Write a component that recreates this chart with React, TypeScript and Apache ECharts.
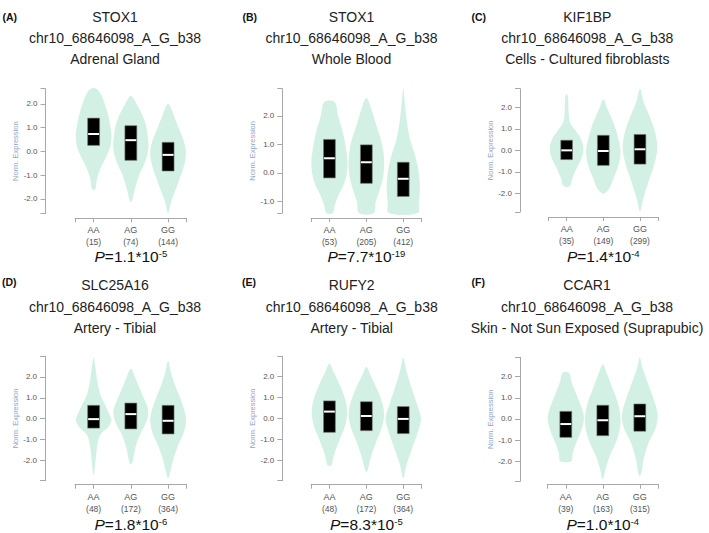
import React, { useEffect, useRef } from 'react';
import * as echarts from 'echarts';

// ---------------- data ----------------
const genotypes = ['AA', 'AG', 'GG'];
const panelTags = ['(A)', '(B)', '(C)', '(D)', '(E)', '(F)'];
const genes = ['STOX1', 'STOX1', 'KIF1BP', 'SLC25A16', 'RUFY2', 'CCAR1'];
const variantId = 'chr10_68646098_A_G_b38';
const tissues = [
  'Adrenal Gland',
  'Whole Blood',
  'Cells - Cultured fibroblasts',
  'Artery - Tibial',
  'Artery - Tibial',
  'Skin - Not Sun Exposed (Suprapubic)',
];
const sampleCounts = [
  [15, 74, 144],
  [53, 205, 412],
  [35, 149, 299],
  [48, 172, 364],
  [48, 172, 364],
  [39, 163, 315],
];
const pMantissa = ['1.1', '7.7', '1.4', '1.8', '8.3', '1.0'];
const pExponent = ['-5', '-19', '-4', '-6', '-5', '-4'];
const yMin = [-2.63, -1.41, -2.87, -2.97, -2.98, -2.95];
const yMax = [2.64, 2.95, 2.87, 2.99, 2.96, 2.92];
const yTickValues = [-2, -1, 0, 1, 2];

// box: first quartile, median, third quartile (per genotype)
const boxQ1 = [
  [0.25, -0.38, -0.83],
  [-0.18, -0.37, -0.83],
  [-0.43, -0.7, -0.64],
  [-0.45, -0.49, -0.73],
  [-0.67, -0.59, -0.73],
  [-0.87, -0.79, -0.58],
];
const boxMedian = [
  [0.73, 0.47, -0.15],
  [0.51, 0.37, -0.21],
  [0.0, -0.03, 0.05],
  [-0.02, 0.22, -0.1],
  [0.32, 0.11, -0.03],
  [-0.24, -0.06, 0.13],
];
const boxQ3 = [
  [1.4, 1.08, 0.38],
  [1.17, 0.98, 0.37],
  [0.47, 0.7, 0.74],
  [0.64, 0.75, 0.64],
  [0.83, 0.79, 0.56],
  [0.36, 0.65, 0.71],
];

// violin outlines: [expression value, half width (fraction of one genotype slot)]
const violinA = [
  [[2.64, 0.08], [2.4, 0.2], [2.08, 0.28], [1.52, 0.39], [0.96, 0.46], [0.61, 0.48], [0.11, 0.43], [-0.31, 0.31], [-0.73, 0.18], [-1.15, 0.09], [-1.58, 0.05], [-1.63, 0]],
  [[2.34, 0], [2.2, 0.08], [1.8, 0.22], [1.24, 0.38], [0.68, 0.45], [0.11, 0.47], [-0.45, 0.38], [-1.01, 0.22], [-1.58, 0.11], [-2.07, 0.03], [-2.14, 0]],
  [[1.99, 0], [1.85, 0.07], [1.52, 0.15], [0.96, 0.29], [0.39, 0.43], [-0.1, 0.48], [-0.59, 0.43], [-1.15, 0.31], [-1.72, 0.18], [-2.14, 0.08], [-2.56, 0.02], [-2.6, 0]],
];
const violinB = [
  [[2.48, 0.14], [2.01, 0.23], [1.43, 0.36], [0.84, 0.45], [0.26, 0.49], [-0.33, 0.41], [-0.8, 0.24], [-1.15, 0.14], [-1.41, 0.09]],
  [[2.62, 0], [2.25, 0.13], [1.66, 0.27], [1.08, 0.41], [0.49, 0.48], [-0.09, 0.46], [-0.56, 0.37], [-1.03, 0.25], [-1.41, 0.2]],
  [[2.95, 0], [2.48, 0.04], [1.78, 0.1], [1.19, 0.18], [0.61, 0.32], [0.02, 0.42], [-0.56, 0.45], [-1.03, 0.42], [-1.41, 0.39]],
];
const violinC = [
  [[2.64, 0], [2.45, 0.04], [1.94, 0.05], [1.32, 0.09], [0.85, 0.27], [0.54, 0.39], [0.08, 0.46], [-0.39, 0.4], [-0.85, 0.27], [-1.32, 0.15], [-1.63, 0.1], [-1.72, 0]],
  [[2.37, 0], [1.94, 0.11], [1.32, 0.27], [0.54, 0.41], [-0.08, 0.47], [-0.7, 0.41], [-1.32, 0.27], [-1.78, 0.16], [-2.02, 0]],
  [[2.87, 0], [2.25, 0.1], [1.63, 0.25], [0.85, 0.41], [0.08, 0.47], [-0.7, 0.38], [-1.47, 0.23], [-2.25, 0.09], [-2.84, 0]],
];
const violinD = [
  [[2.93, 0], [2.42, 0.05], [1.79, 0.1], [1.15, 0.18], [0.67, 0.31], [0.19, 0.43], [-0.05, 0.48], [-0.37, 0.4], [-0.77, 0.18], [-1.4, 0.09], [-2.04, 0.05], [-2.71, 0]],
  [[2.39, 0], [1.95, 0.12], [1.31, 0.27], [0.67, 0.42], [0.35, 0.47], [-0.13, 0.42], [-0.77, 0.24], [-1.4, 0.12], [-2.04, 0.05], [-2.2, 0]],
  [[2.78, 0], [2.26, 0.07], [1.63, 0.18], [0.83, 0.36], [0.03, 0.48], [-0.61, 0.43], [-1.24, 0.28], [-1.88, 0.15], [-2.52, 0.06], [-2.87, 0]],
];
const violinE = [
  [[2.62, 0], [2.22, 0.11], [1.59, 0.28], [0.95, 0.42], [0.32, 0.48], [-0.32, 0.43], [-0.95, 0.29], [-1.59, 0.15], [-2.14, 0.07], [-2.25, 0.05]],
  [[2.46, 0], [2.06, 0.11], [1.43, 0.28], [0.79, 0.42], [0.16, 0.48], [-0.48, 0.41], [-1.11, 0.27], [-1.75, 0.14], [-2.38, 0.05], [-2.57, 0]],
  [[2.89, 0], [2.38, 0.07], [1.59, 0.2], [0.79, 0.35], [0.0, 0.48], [-0.63, 0.4], [-1.43, 0.24], [-2.22, 0.09], [-2.86, 0]],
];
const violinF = [
  [[2.18, 0.09], [1.79, 0.15], [1.15, 0.29], [0.52, 0.43], [0.05, 0.49], [-0.58, 0.41], [-1.22, 0.26], [-1.69, 0.18], [-2.0, 0.15]],
  [[2.58, 0], [2.1, 0.12], [1.47, 0.26], [0.68, 0.42], [-0.11, 0.48], [-0.9, 0.4], [-1.69, 0.2], [-2.32, 0.08], [-2.87, 0]],
  [[2.92, 0], [2.42, 0.07], [1.63, 0.23], [0.84, 0.39], [0.21, 0.48], [-0.43, 0.43], [-1.06, 0.25], [-1.85, 0.11], [-2.48, 0.05], [-2.72, 0]],
];
const violins = [violinA, violinB, violinC, violinD, violinE, violinF];

// ---------------- layout / style ----------------
const FONT = '"Liberation Sans", Arial, Helvetica, sans-serif';
const gridLeft = [75, 311, 548.3, 75, 311, 547.3];
const gridRight = [186.7, 421.7, 658.3, 186.7, 421.7, 658.3];
const gridTop = [88.7, 88.7, 88.7, 356.3, 356.3, 357.3];
const gridBottom = [213.7, 213, 212, 480.7, 480.7, 481.3];
const xAxisLineY = [218.3, 218, 217, 484.7, 484.7, 484.7];
const yAxisLineX = [45.5, 282.3, 520, 45, 282.3, 520];
const titleCenterX = [115, 351.5, 587.3, 115, 351.7, 587];
const tagLeftX = [2.5, 242.5, 471.5, 2, 242, 471.5];
const titleRowY = [[16.7, 37.5, 58.7], [285, 306.7, 327.9]];
const tagRowY = [17, 281.5];
const pRowY = [256.5, 524.5];

const VIOLIN = '#d2f0e3';
const AXIS = '#a8a8a8';
const LABEL = '#555';
const BOX_HALF = 0.16;

function buildOption() {
  const grids: any[] = [];
  const xAxes: any[] = [];
  const yAxes: any[] = [];
  const series: any[] = [];
  const graphic: any[] = [];

  for (let p = 0; p < 6; p++) {
    grids.push({
      left: gridLeft[p],
      top: gridTop[p],
      width: gridRight[p] - gridLeft[p],
      height: gridBottom[p] - gridTop[p],
    });
    xAxes.push({
      gridIndex: p,
      type: 'value',
      min: -0.5,
      max: 2.5,
      offset: xAxisLineY[p] - gridBottom[p],
      axisLine: { show: true, onZero: false, lineStyle: { color: AXIS, width: 1 } },
      axisTick: { show: true, length: 4, customValues: [-0.5, 0, 1, 2, 2.5], lineStyle: { color: AXIS } },
      axisLabel: {
        customValues: [0, 1, 2],
        margin: 6,
        formatter: (v: number) => `{g|${genotypes[Math.round(v)]}}\n{n|(${sampleCounts[p][Math.round(v)]})}`,
        rich: {
          g: { fontSize: 9, color: LABEL, fontFamily: FONT, lineHeight: 12 },
          n: { fontSize: 8.5, color: LABEL, fontFamily: FONT, lineHeight: 12 },
        },
      },
      splitLine: { show: false },
    });
    const ticks = yTickValues.filter((t) => t >= yMin[p] && t <= yMax[p]);
    yAxes.push({
      gridIndex: p,
      type: 'value',
      min: yMin[p],
      max: yMax[p],
      offset: gridLeft[p] - yAxisLineX[p],
      axisLine: { show: true, onZero: false, lineStyle: { color: AXIS, width: 1 } },
      axisTick: { show: true, length: 5, customValues: [yMin[p], ...ticks, yMax[p]], lineStyle: { color: AXIS } },
      axisLabel: {
        customValues: ticks,
        margin: 8,
        fontSize: 8,
        color: LABEL,
        fontFamily: FONT,
        formatter: (v: number) => v.toFixed(1),
      },
      splitLine: { show: false },
      name: 'Norm. Expression',
      nameLocation: 'middle',
      nameGap: 24,
      nameTextStyle: { fontSize: 7.5, color: '#8fa3c7', fontFamily: FONT },
    });

    const prof = violins[p];
    series.push({
      type: 'custom',
      xAxisIndex: p,
      yAxisIndex: p,
      data: genotypes.map((g, i) => [i, 0]),
      renderItem: (params: any, api: any) => {
        const k = params.dataIndex;
        const c = api.value(0);
        const pts = prof[k];
        const right = pts.map(([v, w]: number[]) => api.coord([c + w, v]));
        const leftPts: number[][] = [];
        for (let i = pts.length - 1; i >= 0; i--) {
          const [v, w] = pts[i];
          if (w === 0) continue;
          leftPts.push(api.coord([c - w, v]));
        }
        return {
          type: 'polygon',
          shape: { points: right.concat(leftPts), smooth: 0.35 },
          style: { fill: VIOLIN },
        };
      },
      silent: true,
      z: 1,
    });
    series.push({
      type: 'custom',
      xAxisIndex: p,
      yAxisIndex: p,
      data: genotypes.map((g, i) => [i, boxMedian[p][i]]),
      renderItem: (params: any, api: any) => {
        const k = params.dataIndex;
        const c = api.value(0);
        const tl = api.coord([c - BOX_HALF, boxQ3[p][k]]);
        const br = api.coord([c + BOX_HALF, boxQ1[p][k]]);
        const m1 = api.coord([c - BOX_HALF, boxMedian[p][k]]);
        const m2 = api.coord([c + BOX_HALF, boxMedian[p][k]]);
        return {
          type: 'group',
          children: [
            {
              type: 'rect',
              shape: { x: tl[0], y: tl[1], width: br[0] - tl[0], height: br[1] - tl[1] },
              style: { fill: '#000', stroke: '#777', lineWidth: 0.6 },
            },
            {
              type: 'line',
              shape: { x1: m1[0] + 0.5, y1: m1[1], x2: m2[0] - 0.5, y2: m2[1] },
              style: { stroke: '#fff', lineWidth: 2 },
            },
          ],
        };
      },
      silent: true,
      z: 2,
    });

    const row = p < 3 ? 0 : 1;
    const lines = [genes[p], variantId, tissues[p]];
    lines.forEach((t, li) => {
      graphic.push({
        type: 'text',
        x: titleCenterX[p],
        y: titleRowY[row][li],
        style: {
          text: t,
          fontSize: 14,
          fontFamily: FONT,
          fill: '#222',
          align: 'center',
          verticalAlign: 'middle',
          textAlign: 'center',
          textVerticalAlign: 'middle',
        },
      });
    });
    graphic.push({
      type: 'text',
      x: tagLeftX[p],
      y: tagRowY[row],
      style: {
        text: panelTags[p],
        fontSize: 10.5,
        fontWeight: 'bold',
        fontFamily: FONT,
        fill: '#111',
        align: 'left',
        verticalAlign: 'middle',
        textAlign: 'left',
        textVerticalAlign: 'middle',
      },
    });
    graphic.push({
      type: 'text',
      x: (gridLeft[p] + gridRight[p]) / 2,
      y: pRowY[row],
      style: {
        text: `{i|P}{m|=${pMantissa[p]}*10}{s|${pExponent[p]}}`,
        fontSize: 15.5,
        fontFamily: FONT,
        fill: '#111',
        align: 'center',
        verticalAlign: 'middle',
        textAlign: 'center',
        textVerticalAlign: 'middle',
        rich: {
          i: { fontSize: 15.5, fontStyle: 'italic', fontFamily: FONT, fill: '#111', color: '#111' },
          m: { fontSize: 15.5, fontFamily: FONT, fill: '#111', color: '#111' },
          s: { fontSize: 9.5, fontFamily: FONT, fill: '#111', color: '#111', verticalAlign: 'top' },
        },
      },
    });
  }

  return {
    animation: false,
    backgroundColor: '#ffffff',
    grid: grids,
    xAxis: xAxes,
    yAxis: yAxes,
    series,
    graphic,
  };
}

export default function App() {
  const ref = useRef<HTMLDivElement>(null);
  useEffect(() => {
    if (!ref.current) return;
    const chart = echarts.init(ref.current, undefined, { renderer: 'svg' });
    chart.setOption(buildOption() as any);
    return () => chart.dispose();
  }, []);
  return (
    <div
      ref={ref}
      style={{ position: 'fixed', left: 0, top: 0, width: 709, height: 533, background: '#fff' }}
    />
  );
}
